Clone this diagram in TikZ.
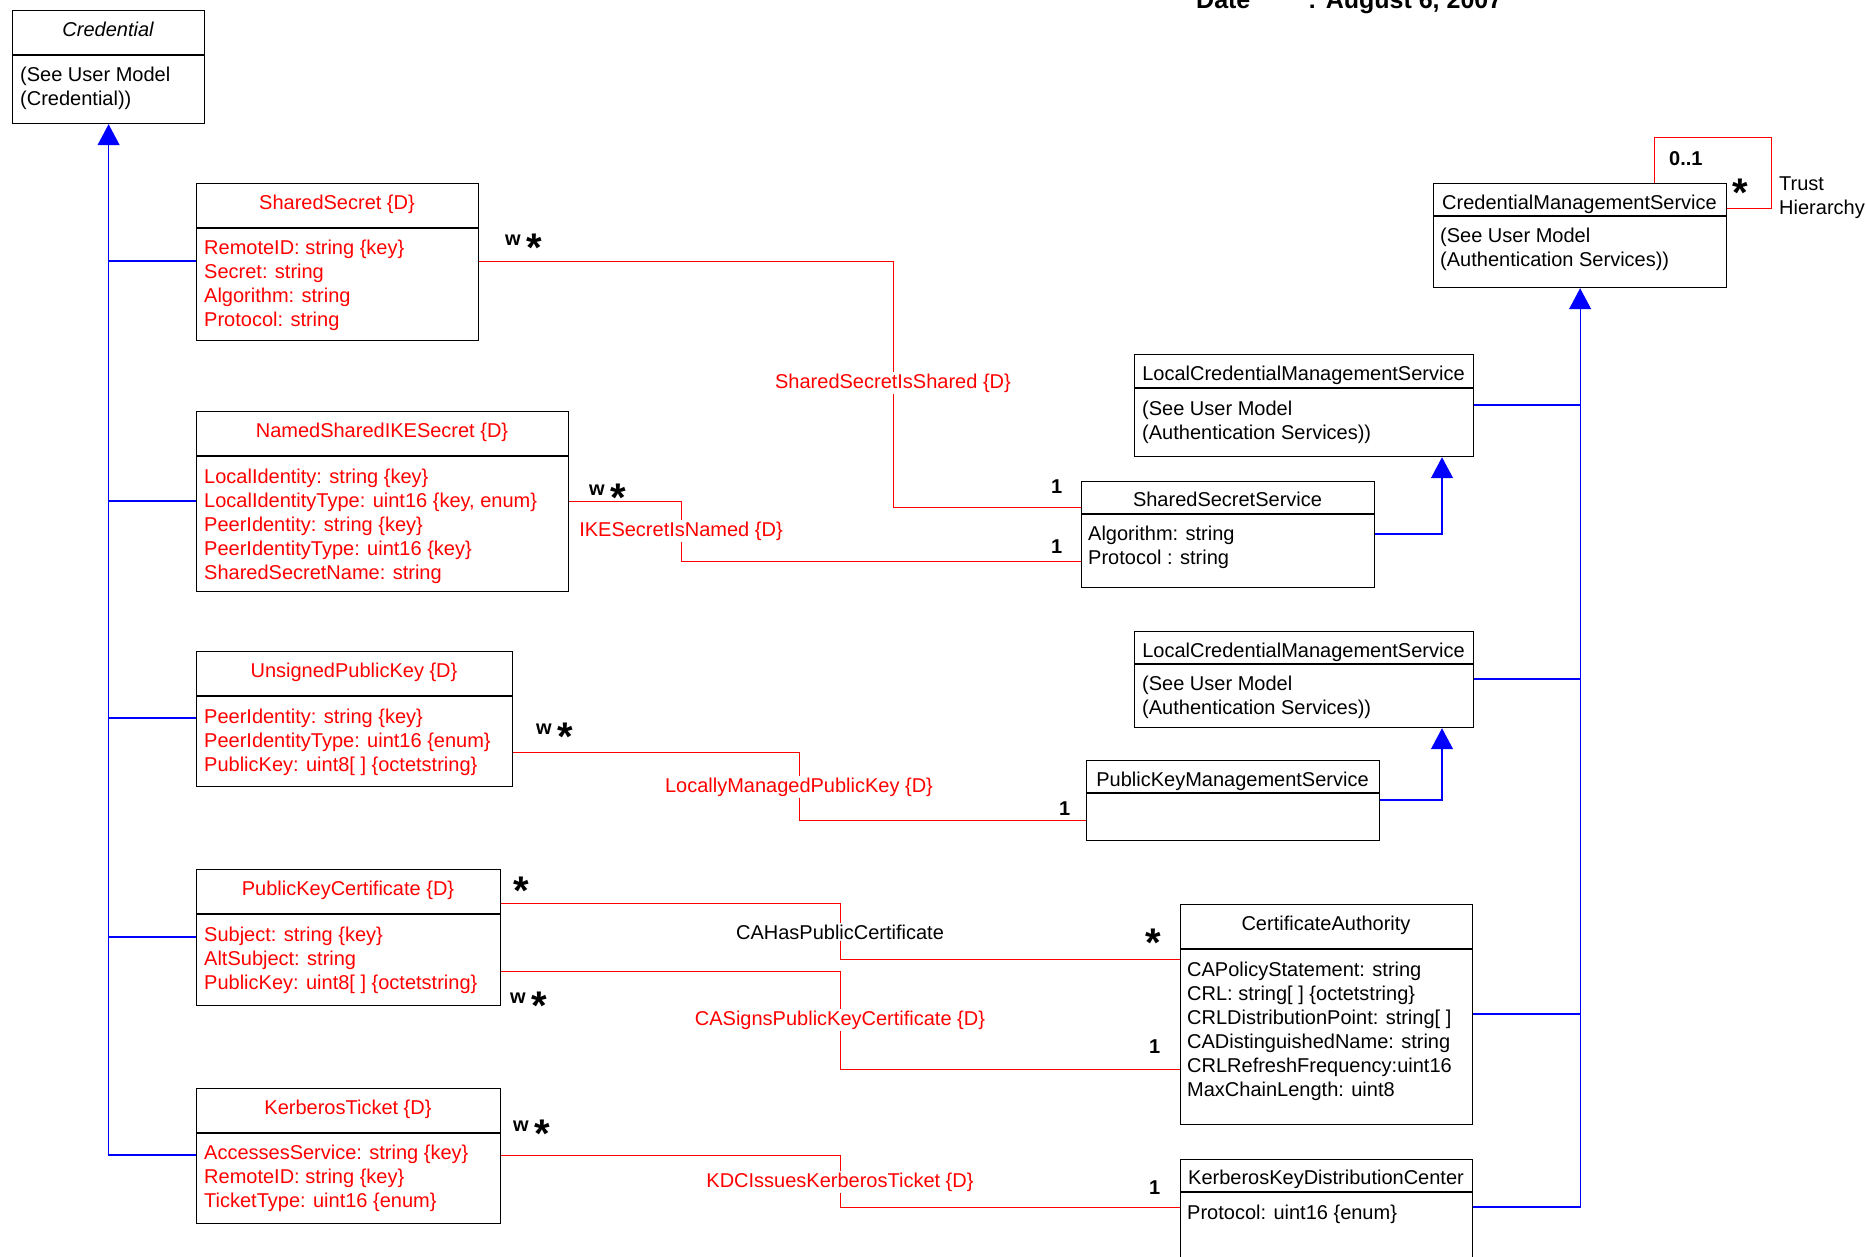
\documentclass[tikz,border=0pt]{standalone}
\usepackage{fontspec}
\setmainfont{Liberation Sans}
\usetikzlibrary{arrows.meta}

\newcommand{\attrlist}[1]{\begin{tabular}[t]{@{}l@{}}#1\end{tabular}}
\newcommand{\mstar}{{\fontsize{40}{40}\selectfont\raisebox{-16pt}{*}}}

\begin{document}
\begin{tikzpicture}[x=1pt, y=-1pt, font=\fontsize{20}{24}\selectfont,
  classbox/.style={draw=black, line width=1.2pt, anchor=north west, inner sep=0pt},
  divline/.style={draw=black, line width=1.2pt},
  title/.style={anchor=base, inner sep=0pt},
  attrs/.style={anchor=base west, inner sep=0pt},
  assoc/.style={draw=red, line width=1pt},
  assoclbl/.style={fill=white, inner sep=1pt, text=red},
  inherit/.style={draw=blue, line width=1.2pt},
  inherittip/.style={inherit, -{Triangle[width=22pt,length=21pt]}},
  mult/.style={anchor=base west, inner sep=0pt, font=\fontsize{20}{24}\selectfont\bfseries}]
  \useasboundingbox (0,0) rectangle (1866,1256);

  % header
  \node[anchor=base west, inner sep=0pt, font=\fontsize{25}{30}\selectfont\bfseries] (dateK) at (1196,8.5) {Date};
  \node[anchor=base west, inner sep=0pt, font=\fontsize{25}{30}\selectfont\bfseries] (dateV) at (1308,8.5) {: August 6, 2007};

  % left classes
  \node[classbox, minimum width=192pt, minimum height=113pt] (cred) at (12,10) {};
  \draw[divline] (cred.west |- 0,55) -- (cred.east |- 0,55);
  \node[title, font=\fontsize{20}{24}\selectfont\itshape] (credT) at (108,36) {Credential};
  \node[attrs] (credA) at (20,81) {\attrlist{(See User Model\\(Credential))}};

  \node[classbox, minimum width=282pt, minimum height=157pt] (ss) at (196,183) {};
  \draw[divline] (ss.west |- 0,228) -- (ss.east |- 0,228);
  \node[title, text=red] (ssT) at (337,209) {SharedSecret \{D\}};
  \node[attrs, text=red] (ssA) at (204,254) {\attrlist{RemoteID: string \{key\}\\Secret: string\\Algorithm: string\\Protocol: string}};

  \node[classbox, minimum width=372pt, minimum height=180pt] (nsike) at (196,411) {};
  \draw[divline] (nsike.west |- 0,456) -- (nsike.east |- 0,456);
  \node[title, text=red] (nsikeT) at (382,437) {NamedSharedIKESecret \{D\}};
  \node[attrs, text=red] (nsikeA) at (204,483) {\attrlist{LocalIdentity: string \{key\}\\LocalIdentityType: uint16 \{key, enum\}\\PeerIdentity: string \{key\}\\PeerIdentityType: uint16 \{key\}\\SharedSecretName: string}};

  \node[classbox, minimum width=316pt, minimum height=135pt] (upk) at (196,651) {};
  \draw[divline] (upk.west |- 0,696) -- (upk.east |- 0,696);
  \node[title, text=red] (upkT) at (354,677) {UnsignedPublicKey \{D\}};
  \node[attrs, text=red] (upkA) at (204,723) {\attrlist{PeerIdentity: string \{key\}\\PeerIdentityType: uint16 \{enum\}\\PublicKey: uint8[ ] \{octetstring\}}};

  \node[classbox, minimum width=304pt, minimum height=136pt] (pkc) at (196,869) {};
  \draw[divline] (pkc.west |- 0,914) -- (pkc.east |- 0,914);
  \node[title, text=red] (pkcT) at (348,895) {PublicKeyCertificate \{D\}};
  \node[attrs, text=red] (pkcA) at (204,941) {\attrlist{Subject: string \{key\}\\AltSubject: string\\PublicKey: uint8[ ] \{octetstring\}}};

  \node[classbox, minimum width=304pt, minimum height=135pt] (kt) at (196,1088) {};
  \draw[divline] (kt.west |- 0,1133) -- (kt.east |- 0,1133);
  \node[title, text=red] (ktT) at (348,1114) {KerberosTicket \{D\}};
  \node[attrs, text=red] (ktA) at (204,1159) {\attrlist{AccessesService: string \{key\}\\RemoteID: string \{key\}\\TicketType: uint16 \{enum\}}};

  % right classes
  \node[classbox, minimum width=293pt, minimum height=104pt] (cms) at (1433,183) {};
  \draw[divline] (cms.west |- 0,216) -- (cms.east |- 0,216);
  \node[title] (cmsT) at (1579.5,209) {CredentialManagementService};
  \node[attrs] (cmsA) at (1440,242) {\attrlist{(See User Model\\(Authentication Services))}};

  \node[classbox, minimum width=339pt, minimum height=102pt] (lcms1) at (1134,354) {};
  \draw[divline] (lcms1.west |- 0,388) -- (lcms1.east |- 0,388);
  \node[title] (lcms1T) at (1303.5,380) {LocalCredentialManagementService};
  \node[attrs] (lcms1A) at (1142,415) {\attrlist{(See User Model\\(Authentication Services))}};

  \node[classbox, minimum width=293pt, minimum height=106pt] (sss) at (1081,481) {};
  \draw[divline] (sss.west |- 0,514) -- (sss.east |- 0,514);
  \node[title] (sssT) at (1227.5,506) {SharedSecretService};
  \node[attrs] (sssA) at (1088,540) {\attrlist{Algorithm: string\\Protocol : string}};

  \node[classbox, minimum width=339pt, minimum height=96pt] (lcms2) at (1134,631) {};
  \draw[divline] (lcms2.west |- 0,664) -- (lcms2.east |- 0,664);
  \node[title] (lcms2T) at (1303.5,657) {LocalCredentialManagementService};
  \node[attrs] (lcms2A) at (1142,690) {\attrlist{(See User Model\\(Authentication Services))}};

  \node[classbox, minimum width=293pt, minimum height=80pt] (pkms) at (1086,760) {};
  \draw[divline] (pkms.west |- 0,793) -- (pkms.east |- 0,793);
  \node[title] (pkmsT) at (1232.5,786) {PublicKeyManagementService};

  \node[classbox, minimum width=292pt, minimum height=220pt] (ca) at (1180,904) {};
  \draw[divline] (ca.west |- 0,949) -- (ca.east |- 0,949);
  \node[title] (caT) at (1326,930) {CertificateAuthority};
  \node[attrs] (caA) at (1187,976) {\attrlist{CAPolicyStatement: string\\CRL: string[ ] \{octetstring\}\\CRLDistributionPoint: string[ ]\\CADistinguishedName: string\\CRLRefreshFrequency:uint16\\MaxChainLength: uint8}};

  \node[classbox, minimum width=292pt, minimum height=120pt] (kdc) at (1180,1159) {};
  \draw[divline] (kdc.west |- 0,1192) -- (kdc.east |- 0,1192);
  \node[title] (kdcT) at (1326,1184) {KerberosKeyDistributionCenter};
  \node[attrs] (kdcA) at (1187,1219) {\attrlist{Protocol: uint16 \{enum\}}};

  % generalisations
  \draw[inherittip] (kt.west |- 0,1155) -| (cred.south);
  \draw[inherit] (ss.west |- 0,261) -- (cred.south |- 0,261);
  \draw[inherit] (nsike.west |- 0,501) -- (cred.south |- 0,501);
  \draw[inherit] (upk.west |- 0,718) -- (cred.south |- 0,718);
  \draw[inherit] (pkc.west |- 0,937) -- (cred.south |- 0,937);

  \draw[inherittip] (kdc.east |- 0,1207) -| (cms.south);
  \draw[inherit] (lcms1.east |- 0,405) -- (cms.south |- 0,405);
  \draw[inherit] (lcms2.east |- 0,679) -- (cms.south |- 0,679);
  \draw[inherit] (ca.east |- 0,1014) -- (cms.south |- 0,1014);
  \draw[inherittip] (sss.east |- 0,534) -| (1442,0 |- lcms1.south);
  \draw[inherittip] (pkms.east |- 0,800) -| (1442,0 |- lcms2.south);

  % associations
  \node[assoclbl] (shLbl) at (893,383) {SharedSecretIsShared \{D\}};
  \draw[assoc] (ss.east |- 0,261) -| (shLbl.north);
  \draw[assoc] (shLbl.south) |- (sss.west |- 0,507);

  \node[assoclbl] (ikeLbl) at (681,531) {IKESecretIsNamed \{D\}};
  \draw[assoc] (nsike.east |- 0,501) -| (ikeLbl.north);
  \draw[assoc] (ikeLbl.south) |- (sss.west |- 0,561);

  \node[assoclbl] (lmLbl) at (799,787) {LocallyManagedPublicKey \{D\}};
  \draw[assoc] (upk.east |- 0,752) -| (lmLbl.north);
  \draw[assoc] (lmLbl.south) |- (pkms.west |- 0,820);

  \node[assoclbl, text=black] (caHasLbl) at (840,932) {CAHasPublicCertificate};
  \draw[assoc] (pkc.east |- 0,903) -| (caHasLbl.north);
  \draw[assoc] (caHasLbl.south) |- (ca.west |- 0,959);

  \node[assoclbl] (caSignLbl) at (840,1020) {CASignsPublicKeyCertificate \{D\}};
  \draw[assoc] (pkc.east |- 0,971) -| (caSignLbl.north);
  \draw[assoc] (caSignLbl.south) |- (ca.west |- 0,1069);

  \node[assoclbl] (kdcLbl) at (840,1182) {KDCIssuesKerberosTicket \{D\}};
  \draw[assoc] (kt.east |- 0,1155) -| (kdcLbl.north);
  \draw[assoc] (kdcLbl.south) |- (kdc.west |- 0,1207);

  \coordinate (loopC) at (1771,137);
  \draw[assoc] (cms.north -| 1654,0) |- (loopC) |- (cms.east |- 0,208);
  \node[attrs] (trustLbl) at (1779,190) {\attrlist{Trust\\Hierarchy}};

  % multiplicities
  \node[mult] (trustM1) at (1669,165) {0..1};
  \node[mult] (trustM2) at (1732,190) {\mstar};
  \node[mult] (ssM) at (505,245) {w \mstar};
  \node[mult] (sssM1) at (1051,493) {1};
  \node[mult] (ikeM) at (589,495) {w \mstar};
  \node[mult] (sssM2) at (1051,553) {1};
  \node[mult] (upkM) at (536,734) {w \mstar};
  \node[mult] (pkmsM) at (1059,815) {1};
  \node[mult] (pkcM1) at (513,888) {\mstar};
  \node[mult] (caM1) at (1145,940) {\mstar};
  \node[mult] (pkcM2) at (510,1003) {w \mstar};
  \node[mult] (caM2) at (1149,1053) {1};
  \node[mult] (ktM) at (513,1131) {w \mstar};
  \node[mult] (kdcM) at (1149,1194) {1};
\end{tikzpicture}
\end{document}
